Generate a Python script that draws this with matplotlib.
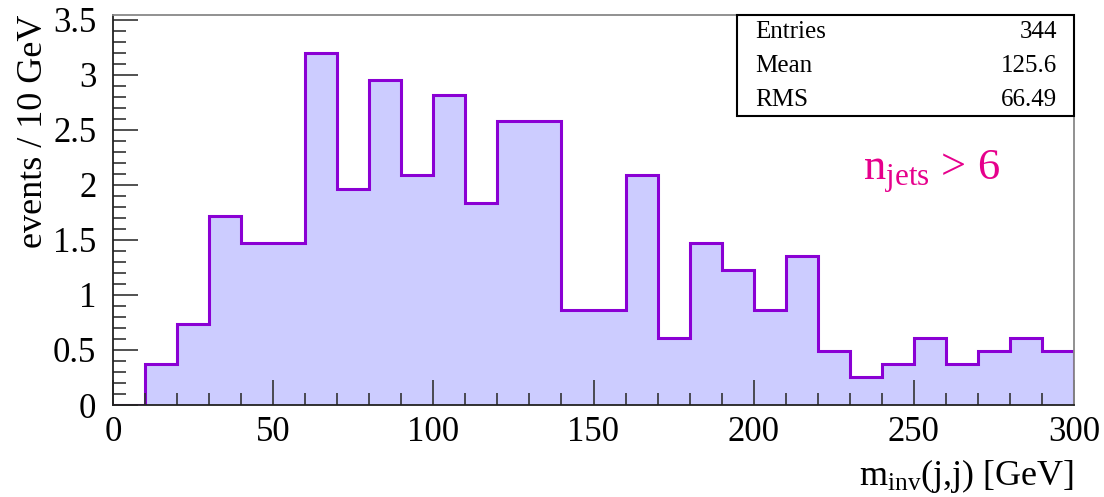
import matplotlib.pyplot as plt
from matplotlib.ticker import MultipleLocator
import numpy as np

plt.rcParams['font.family'] = ['Liberation Serif', 'DejaVu Serif']
plt.rcParams['mathtext.fontset'] = 'custom'
plt.rcParams['mathtext.rm'] = 'Liberation Serif'
plt.rcParams['mathtext.it'] = 'Liberation Serif'

# histogram: bin edges (GeV) and events / 10 GeV
edges = np.arange(0, 310, 10)
counts = [0.0, 0.37, 0.74, 1.72, 1.47, 1.47, 3.20, 1.96, 2.95, 2.09,
          2.82, 1.84, 2.58, 2.58, 0.86, 0.86, 2.09, 0.61, 1.47, 1.23,
          0.86, 1.35, 0.49, 0.25, 0.37, 0.61, 0.37, 0.49, 0.61, 0.49]
stats_names = ["Entries", "Mean", "RMS"]
stats_vals = ["344", "125.6", "66.49"]

fig = plt.figure(figsize=(11.04, 4.97), dpi=100)
ax = fig.add_axes([113/1104, 1 - 405/497, (1074-113)/1104, (405-15)/497])

ax.stairs(counts, edges, fill=True, color='#ccccff', lw=0)
ax.stairs(counts, edges, color='#8a00d4', lw=2.2)

ax.set_xlim(0, 300)
ax.set_ylim(0, 3.545)
ax.xaxis.set_major_locator(MultipleLocator(50))
ax.xaxis.set_minor_locator(MultipleLocator(10))
ax.yaxis.set_major_locator(MultipleLocator(0.5))
ax.yaxis.set_minor_locator(MultipleLocator(0.1))
ax.tick_params(which='both', direction='in', top=False, right=False,
               color='#333333', width=1.2, labelsize=25)
ax.tick_params(which='major', length=18)
ax.tick_params(which='minor', length=9)
ax.tick_params(axis='x', pad=8)
ax.tick_params(axis='y', pad=12)
ax.set_yticks(np.arange(0, 3.6, 0.5))
ax.set_yticklabels(['0', '0.5', '1', '1.5', '2', '2.5', '3', '3.5'])

for s in ['top', 'right']:
    ax.spines[s].set_color('#888888')
for s in ['left', 'bottom']:
    ax.spines[s].set_color('#222222')
for s in ax.spines.values():
    s.set_linewidth(1.3)

ax.set_ylabel('events / 10 GeV', fontsize=26, loc='top', labelpad=2)
ax.set_xlabel(r'm$_{\mathrm{inv}}$(j,j) [GeV]', fontsize=26, loc='right', labelpad=6)

# stats box
box = plt.Rectangle((737/1104, 1 - 116/497), (1074-737)/1104, (116-15)/497,
                    transform=fig.transFigure, fill=True, facecolor='white',
                    edgecolor='black', lw=1.5, zorder=5)
fig.add_artist(box)
for i, (n, v) in enumerate(zip(stats_names, stats_vals)):
    yy = 1 - (32 + 34 * i) / 497
    fig.text(755/1104, yy, n, fontsize=18, va='center', ha='left', zorder=6)
    fig.text(1057/1104, yy, v, fontsize=18, va='center', ha='right', zorder=6)

fig.text(863/1104, 1 - 172/497, r'n$_{\mathrm{jets}}$ > 6', fontsize=32,
         color='#e6008c', va='center', ha='left')

fig.savefig('out.png', dpi=100)
